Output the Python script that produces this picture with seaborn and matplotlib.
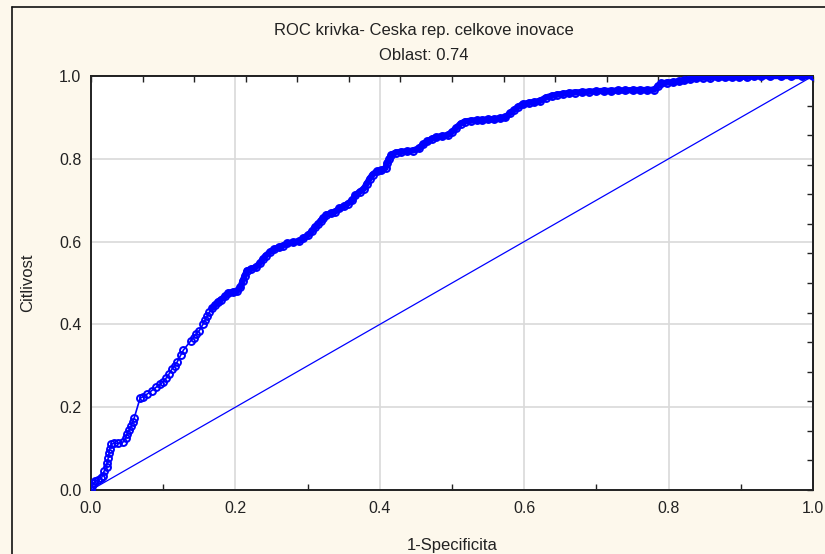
import numpy as np
import pandas as pd
import matplotlib
matplotlib.use("Agg")
import matplotlib.pyplot as plt
from matplotlib.lines import Line2D
from matplotlib.ticker import MultipleLocator, FixedLocator
import seaborn as sns

# ROC curve points: false positive rate (1 - specificity) and sensitivity
fpr = [
    0.000, 0.002, 0.004, 0.006, 0.010, 0.014, 0.016, 0.018, 0.022, 0.022,
    0.024, 0.025, 0.026, 0.028, 0.032, 0.038, 0.044, 0.048, 0.050, 0.053,
    0.056, 0.058, 0.060, 0.068, 0.072, 0.078, 0.084, 0.090, 0.096, 0.100,
    0.104, 0.108, 0.112, 0.116, 0.119, 0.124, 0.128, 0.138, 0.142, 0.146,
    0.150, 0.155, 0.158, 0.161, 0.164, 0.168, 0.172, 0.176, 0.180, 0.186,
    0.190, 0.196, 0.202, 0.207, 0.210, 0.213, 0.216, 0.222, 0.228, 0.234,
    0.238, 0.242, 0.248, 0.254, 0.260, 0.266, 0.272, 0.280, 0.288, 0.294,
    0.300, 0.306, 0.310, 0.314, 0.318, 0.322, 0.326, 0.332, 0.338, 0.344,
    0.350, 0.356, 0.362, 0.366, 0.372, 0.378, 0.382, 0.386, 0.390, 0.396,
    0.402, 0.408, 0.410, 0.413, 0.416, 0.422, 0.430, 0.438, 0.446, 0.454,
    0.460, 0.466, 0.472, 0.478, 0.486, 0.494, 0.500, 0.506, 0.512, 0.518,
    0.526, 0.534, 0.542, 0.550, 0.558, 0.566, 0.574, 0.580, 0.586, 0.592,
    0.598, 0.606, 0.614, 0.622, 0.630, 0.638, 0.646, 0.654, 0.662, 0.670,
    0.680, 0.690, 0.700, 0.710, 0.720, 0.730, 0.740, 0.750, 0.760, 0.770,
    0.780, 0.785, 0.790, 0.798, 0.806, 0.814, 0.822, 0.830, 0.838, 0.848,
    0.858, 0.868, 0.878, 0.888, 0.898, 0.908, 0.918, 0.928, 0.940, 0.955,
    0.970, 0.985, 1.000,
]
tpr = [
    0.000, 0.010, 0.018, 0.022, 0.025, 0.028, 0.035, 0.045, 0.055, 0.065,
    0.078, 0.090, 0.100, 0.110, 0.113, 0.113, 0.115, 0.125, 0.135, 0.145,
    0.155, 0.165, 0.175, 0.222, 0.225, 0.232, 0.240, 0.248, 0.255, 0.262,
    0.270, 0.280, 0.292, 0.300, 0.308, 0.325, 0.338, 0.360, 0.368, 0.378,
    0.385, 0.400, 0.410, 0.420, 0.430, 0.440, 0.448, 0.455, 0.460, 0.468,
    0.476, 0.478, 0.480, 0.490, 0.505, 0.518, 0.530, 0.534, 0.538, 0.548,
    0.558, 0.566, 0.575, 0.582, 0.586, 0.590, 0.596, 0.598, 0.601, 0.608,
    0.615, 0.625, 0.635, 0.642, 0.650, 0.658, 0.665, 0.668, 0.672, 0.680,
    0.685, 0.692, 0.700, 0.712, 0.720, 0.728, 0.740, 0.752, 0.762, 0.770,
    0.772, 0.778, 0.790, 0.800, 0.810, 0.815, 0.817, 0.818, 0.820, 0.825,
    0.835, 0.842, 0.848, 0.852, 0.855, 0.857, 0.865, 0.875, 0.885, 0.890,
    0.892, 0.893, 0.894, 0.895, 0.896, 0.898, 0.900, 0.910, 0.918, 0.926,
    0.932, 0.935, 0.937, 0.940, 0.948, 0.952, 0.955, 0.957, 0.959, 0.960,
    0.961, 0.962, 0.963, 0.964, 0.964, 0.965, 0.965, 0.966, 0.966, 0.966,
    0.967, 0.975, 0.982, 0.984, 0.985, 0.987, 0.990, 0.993, 0.995, 0.996,
    0.996, 0.997, 0.997, 0.997, 0.998, 0.998, 0.999, 1.000, 1.000, 1.000,
    1.000, 1.000, 1.000,
]
# reference (chance) line
diag_x = [0.0, 1.0]
diag_y = [0.0, 1.0]

title_line1 = "ROC krivka- Ceska rep. celkove inovace"
title_line2 = "Oblast: 0.74"
x_label = "1-Specificita"
y_label = "Citlivost"
major_ticks = [0.0, 0.2, 0.4, 0.6, 0.8, 1.0]

sns.set_style("white")
plt.rcParams["font.family"] = ["Liberation Sans", "DejaVu Sans"]

W, H = 825, 554
bg = "#fdf8ec"
blue = "#0000ff"
ink = "#222222"
fig = plt.figure(figsize=(W / 100, H / 100), dpi=100, facecolor=bg)
ax = fig.add_axes([91 / W, 1 - 490 / H, (813 - 91) / W, (490 - 76) / H])
ax.set_facecolor("white")

roc = pd.DataFrame({"fpr": fpr, "tpr": tpr})
diag = pd.DataFrame({"x": diag_x, "y": diag_y})

sns.lineplot(data=diag, x="x", y="y", ax=ax, color=blue, lw=0.9, zorder=3)
# where observations are densely packed the markers merge into a solid band
dense = roc[roc["tpr"] >= 0.44]
sns.lineplot(data=dense, x="fpr", y="tpr", ax=ax, sort=False, estimator=None,
             color=blue, lw=4.6, solid_joinstyle="miter",
             solid_capstyle="round", zorder=4)
sns.lineplot(data=roc, x="fpr", y="tpr", ax=ax, sort=False, estimator=None,
             color=blue, lw=1.2, marker="o", markersize=5.0,
             markerfacecolor="none", markeredgecolor=blue,
             markeredgewidth=1.4, zorder=5)

ax.set_xlim(0, 1)
ax.set_ylim(0, 1)
ax.set_xticks(major_ticks)
ax.set_yticks(major_ticks)
ax.set_xticklabels([f"{t:.1f}" for t in major_ticks])
ax.set_yticklabels([f"{t:.1f}" for t in major_ticks])
ax.xaxis.set_minor_locator(MultipleLocator(0.1))
ax.grid(True, which="major", color="#d9d9d9", lw=1.2, zorder=0)
ax.set_axisbelow(True)

ax.tick_params(axis="x", which="major", length=0, pad=8, labelsize=11.5,
               labelcolor=ink)
ax.tick_params(axis="x", which="minor", direction="in", length=4, width=1,
               color=ink, bottom=True)
ax.tick_params(axis="y", which="major", direction="in", length=4, width=1,
               pad=7, labelsize=11.5, labelcolor=ink, color=ink)

for side in ["left", "bottom", "top", "right"]:
    ax.spines[side].set_visible(True)
    ax.spines[side].set_color(ink)
    ax.spines[side].set_linewidth(1.4)

# inward ticks on the top and right frame
top = ax.secondary_xaxis("top")
top.xaxis.set_major_locator(FixedLocator([k / 14 for k in range(15)]))
top.tick_params(direction="in", length=4, width=1, color=ink,
                labeltop=False)
top.spines["top"].set_linewidth(1.4)
right = ax.secondary_yaxis("right")
right.yaxis.set_major_locator(FixedLocator([k / 14 for k in range(15)]))
right.tick_params(direction="in", length=4, width=1, color=ink,
                  labelright=False)
right.spines["right"].set_linewidth(1.4)

ax.set_xlabel(x_label, fontsize=12, color=ink)
ax.set_ylabel(y_label, fontsize=12, color=ink)
ax.xaxis.set_label_coords(0.5, (490 - 538) / 414)
ax.yaxis.set_label_coords((35 - 91) / 722, 0.5)

fig.text(424 / W, 1 - 30 / H, title_line1, ha="center", va="center",
         fontsize=12, color=ink)
fig.text(424 / W, 1 - 55 / H, title_line2, ha="center", va="center",
         fontsize=12, color=ink)

# outer frame of the graph window
fig.add_artist(Line2D([12 / W, 12 / W], [0, 1 - 7 / H], color="#111111",
                      lw=1.2, transform=fig.transFigure))
fig.add_artist(Line2D([12 / W, 1], [1 - 7 / H, 1 - 7 / H], color="#111111",
                      lw=1.2, transform=fig.transFigure))

fig.savefig("out.png", dpi=100, facecolor=bg)
